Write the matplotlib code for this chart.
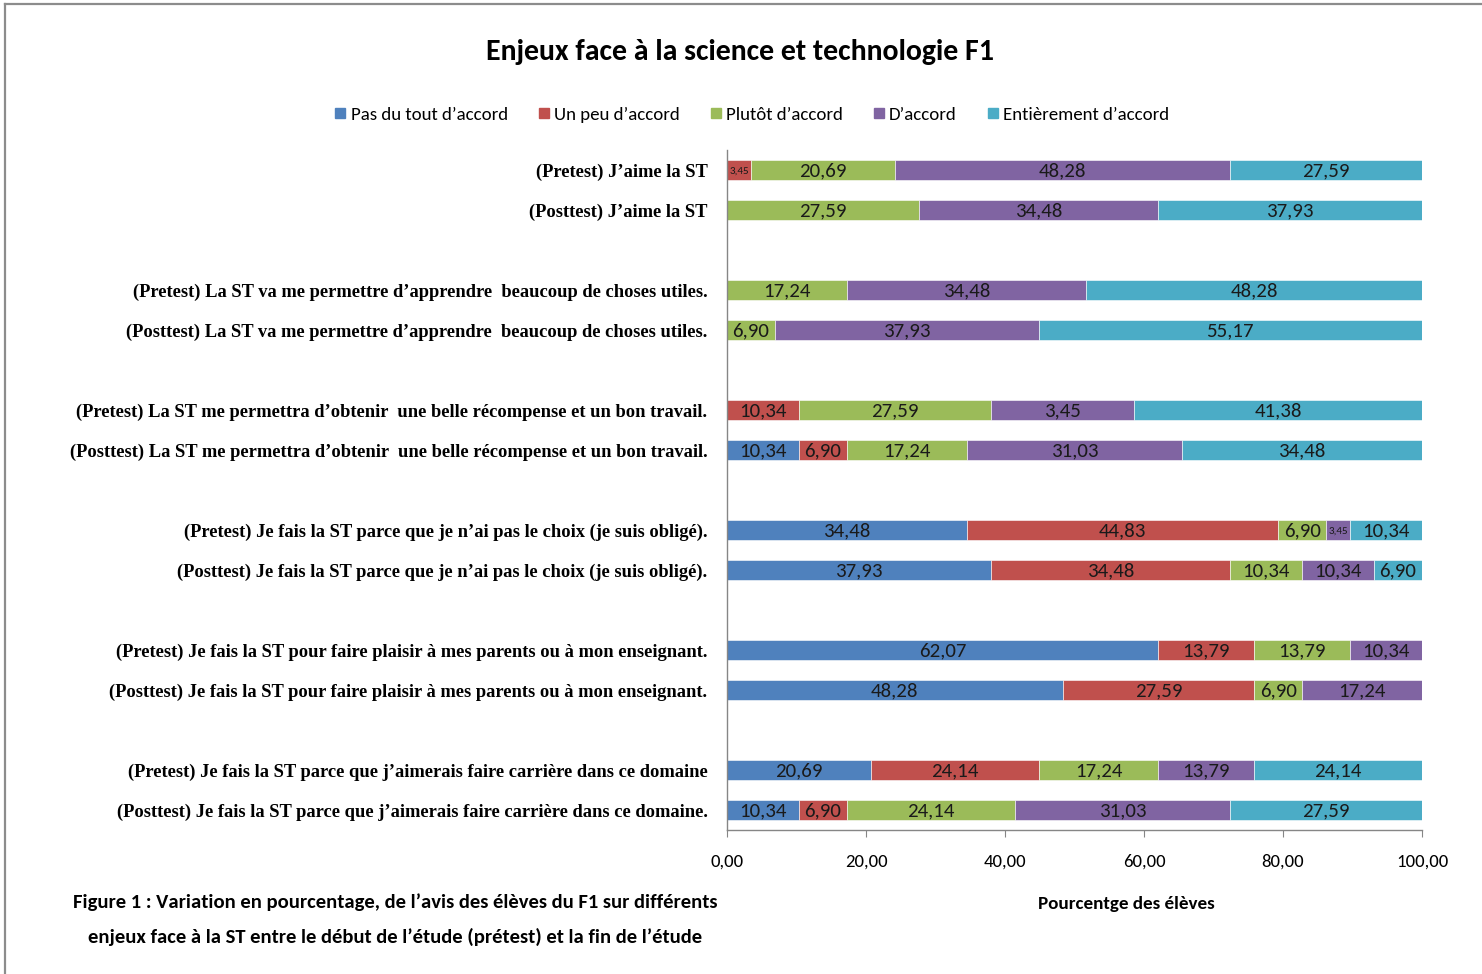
import matplotlib
matplotlib.use("Agg")
import matplotlib.pyplot as plt
from matplotlib.lines import Line2D

# Rows from top to bottom ("" = empty spacer row between question pairs)
categories = [
    "(Pretest) J’aime la ST",
    "(Posttest) J’aime la ST",
    "",
    "(Pretest) La ST va me permettre d’apprendre  beaucoup de choses utiles.",
    "(Posttest) La ST va me permettre d’apprendre  beaucoup de choses utiles.",
    "",
    "(Pretest) La ST me permettra d’obtenir  une belle récompense et un bon travail.",
    "(Posttest) La ST me permettra d’obtenir  une belle récompense et un bon travail.",
    "",
    "(Pretest) Je fais la ST parce que je n’ai pas le choix (je suis obligé).",
    "(Posttest) Je fais la ST parce que je n’ai pas le choix (je suis obligé).",
    "",
    "(Pretest) Je fais la ST pour faire plaisir à mes parents ou à mon enseignant.",
    "(Posttest) Je fais la ST pour faire plaisir à mes parents ou à mon enseignant.",
    "",
    "(Pretest) Je fais la ST parce que j’aimerais faire carrière dans ce domaine",
    "(Posttest) Je fais la ST parce que j’aimerais faire carrière dans ce domaine.",
]

series_names = ["Pas du tout d’accord", "Un peu d’accord", "Plutôt d’accord",
                "D’accord", "Entièrement d’accord"]
colors = ["#4F81BD", "#C0504D", "#9BBB59", "#8064A2", "#4BACC6"]

# values for the 12 bars (top to bottom), one list per answer
pas_du_tout = [0, 0, 0, 0, 0, 10.34, 34.48, 37.93, 62.07, 48.28, 20.69, 10.34]
un_peu = [3.45, 0, 0, 0, 10.34, 6.90, 44.83, 34.48, 13.79, 27.59, 24.14, 6.90]
plutot = [20.69, 27.59, 17.24, 6.90, 27.59, 17.24, 6.90, 10.34, 13.79, 6.90, 17.24, 24.14]
d_accord = [48.28, 34.48, 34.48, 37.93, 20.69, 31.03, 3.45, 10.34, 10.34, 17.24, 13.79, 31.03]
entierement = [27.59, 37.93, 48.28, 55.17, 41.38, 34.48, 10.34, 6.90, 0, 0, 24.14, 27.59]
series = [pas_du_tout, un_peu, plutot, d_accord, entierement]

# the source chart prints "3,45" on this segment although it spans 20,69
label_overrides = {(3, 4): "3,45"}

xticks = [0, 20, 40, 60, 80, 100]

CAL = ["Carlito", "DejaVu Sans"]
SERIF = ["Liberation Serif", "DejaVu Serif"]

fig = plt.figure(figsize=(14.82, 9.74), dpi=100)
ax = fig.add_axes([727 / 1482, 1 - 830 / 974, 695 / 1482, 680 / 974])

rows = [i for i, c in enumerate(categories) if c]
left = [0.0] * len(rows)
for s, (vals, col) in enumerate(zip(series, colors)):
    ax.barh(rows, vals, left=left, height=0.5, color=col, edgecolor="white", linewidth=0.4)
    for b, (y, v) in enumerate(zip(rows, vals)):
        if v > 0:
            txt = label_overrides.get((s, b), f"{v:.2f}".replace(".", ","))
            small = v < 5
            ax.text(left[b] + v / 2, y + 0.03, txt, ha="center", va="center",
                    fontsize=8 if small else 15, family=CAL, color="#1a1a1a")
    left = [l + v for l, v in zip(left, vals)]

ax.set_ylim(len(categories) - 0.5, -0.5)
ax.set_yticks(range(len(categories)))
ax.set_yticklabels(categories, family=SERIF, fontweight="bold", fontsize=13.3)
ax.tick_params(axis="y", length=0, pad=14)

ax.set_xlim(0, 100)
ax.set_xticks(xticks)
ax.set_xticklabels([f"{t:.2f}".replace(".", ",") for t in xticks], family=CAL, fontsize=13.5)
ax.tick_params(axis="x", length=5, color="#868686", pad=12)

for side in ["top", "right"]:
    ax.spines[side].set_visible(False)
for side in ["left", "bottom"]:
    ax.spines[side].set_color("#868686")
    ax.spines[side].set_linewidth(1)

fig.text(0.4993, 1 - 52 / 974, "Enjeux face à la science et technologie F1",
         ha="center", va="center", family=CAL, fontweight="bold", fontsize=21.5)

handles = [Line2D([], [], marker="s", linestyle="none", markersize=7, color=c) for c in colors]
fig.legend(handles, series_names, loc="center", bbox_to_anchor=(752 / 1482, 1 - 115 / 974),
           ncol=5, frameon=False, prop={"family": CAL, "size": 13.6},
           handlelength=0.6, handletextpad=0.25, columnspacing=1.6)

fig.text(1126 / 1482, 1 - 904 / 974, "Pourcentge des élèves", ha="center", va="center",
         family=CAL, fontweight="bold", fontsize=13.7)

fig.text(395 / 1482, 1 - 902 / 974,
         "Figure 1 : Variation en pourcentage, de l’avis des élèves du F1 sur différents",
         ha="center", va="center", family=CAL, fontweight="bold", fontsize=14.9)
fig.text(395 / 1482, 1 - 937 / 974,
         "enjeux face à la ST entre le début de l’étude (prétest) et la fin de l’étude",
         ha="center", va="center", family=CAL, fontweight="bold", fontsize=14.9)

# grey frame of the original chart area (left and top edges visible)
fig.add_artist(Line2D([5 / 1482, 5 / 1482], [0, 1 - 4 / 974], transform=fig.transFigure,
                      color="#8c8c8c", linewidth=1.6))
fig.add_artist(Line2D([5 / 1482, 1], [1 - 4 / 974, 1 - 4 / 974], transform=fig.transFigure,
                      color="#8c8c8c", linewidth=1.6))

fig.savefig("out.png", dpi=100)
